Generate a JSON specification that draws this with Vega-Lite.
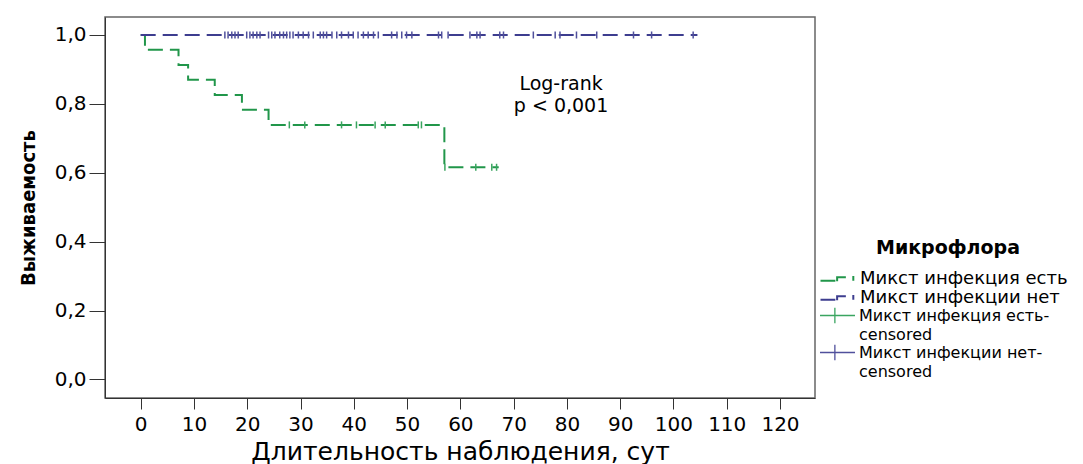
{
  "$schema": "https://vega.github.io/schema/vega-lite/v6.json",
  "width": 710,
  "height": 381,
  "autosize": "none",
  "padding": {"left": 105, "top": 17, "right": 268, "bottom": 66},
  "background": "white",
  "config": {
    "view": {"stroke": "#666666", "strokeWidth": 1.5},
    "font": "DejaVu Sans"
  },
  "resolve": {"scale": {"color": "independent"}},
  "datasets": {
    "steps": [
      {"series": "Микст инфекция есть", "day": 0, "surv": 1},
      {"series": "Микст инфекция есть", "day": 0.8, "surv": 0.957},
      {"series": "Микст инфекция есть", "day": 7.1, "surv": 0.913},
      {"series": "Микст инфекция есть", "day": 8.9, "surv": 0.870},
      {"series": "Микст инфекция есть", "day": 13.9, "surv": 0.826},
      {"series": "Микст инфекция есть", "day": 19, "surv": 0.783},
      {"series": "Микст инфекция есть", "day": 24, "surv": 0.739},
      {"series": "Микст инфекция есть", "day": 57, "surv": 0.616},
      {"series": "Микст инфекция есть", "day": 67.2, "surv": 0.616},
      {"series": "Микст инфекции нет", "day": 0, "surv": 1},
      {"series": "Микст инфекции нет", "day": 104.5, "surv": 1}
    ],
    "censored": [
      {"series": "Микст инфекция есть-censored", "day": 27.9, "surv": 0.739},
      {"series": "Микст инфекция есть-censored", "day": 30.8, "surv": 0.739},
      {"series": "Микст инфекция есть-censored", "day": 37.7, "surv": 0.739},
      {"series": "Микст инфекция есть-censored", "day": 40.5, "surv": 0.739},
      {"series": "Микст инфекция есть-censored", "day": 44.0, "surv": 0.739},
      {"series": "Микст инфекция есть-censored", "day": 45.9, "surv": 0.739},
      {"series": "Микст инфекция есть-censored", "day": 52.1, "surv": 0.739},
      {"series": "Микст инфекция есть-censored", "day": 52.7, "surv": 0.739},
      {"series": "Микст инфекция есть-censored", "day": 57.1, "surv": 0.616},
      {"series": "Микст инфекция есть-censored", "day": 62.9, "surv": 0.616},
      {"series": "Микст инфекция есть-censored", "day": 65.9, "surv": 0.616},
      {"series": "Микст инфекция есть-censored", "day": 66.8, "surv": 0.616},
      {"series": "Микст инфекции нет-censored", "day": 15.8, "surv": 1},
      {"series": "Микст инфекции нет-censored", "day": 16.4, "surv": 1},
      {"series": "Микст инфекции нет-censored", "day": 17.1, "surv": 1},
      {"series": "Микст инфекции нет-censored", "day": 17.7, "surv": 1},
      {"series": "Микст инфекции нет-censored", "day": 18.3, "surv": 1},
      {"series": "Микст инфекции нет-censored", "day": 19.9, "surv": 1},
      {"series": "Микст инфекции нет-censored", "day": 20.5, "surv": 1},
      {"series": "Микст инфекции нет-censored", "day": 21.1, "surv": 1},
      {"series": "Микст инфекции нет-censored", "day": 21.8, "surv": 1},
      {"series": "Микст инфекции нет-censored", "day": 22.4, "surv": 1},
      {"series": "Микст инфекции нет-censored", "day": 24.0, "surv": 1},
      {"series": "Микст инфекции нет-censored", "day": 24.6, "surv": 1},
      {"series": "Микст инфекции нет-censored", "day": 25.2, "surv": 1},
      {"series": "Микст инфекции нет-censored", "day": 26.1, "surv": 1},
      {"series": "Микст инфекции нет-censored", "day": 26.8, "surv": 1},
      {"series": "Микст инфекции нет-censored", "day": 27.4, "surv": 1},
      {"series": "Микст инфекции нет-censored", "day": 28.0, "surv": 1},
      {"series": "Микст инфекции нет-censored", "day": 28.6, "surv": 1},
      {"series": "Микст инфекции нет-censored", "day": 29.6, "surv": 1},
      {"series": "Микст инфекции нет-censored", "day": 30.5, "surv": 1},
      {"series": "Микст инфекции нет-censored", "day": 31.5, "surv": 1},
      {"series": "Микст инфекции нет-censored", "day": 32.4, "surv": 1},
      {"series": "Микст инфекции нет-censored", "day": 33.7, "surv": 1},
      {"series": "Микст инфекции нет-censored", "day": 34.3, "surv": 1},
      {"series": "Микст инфекции нет-censored", "day": 34.9, "surv": 1},
      {"series": "Микст инфекции нет-censored", "day": 35.9, "surv": 1},
      {"series": "Микст инфекции нет-censored", "day": 36.8, "surv": 1},
      {"series": "Микст инфекции нет-censored", "day": 37.7, "surv": 1},
      {"series": "Микст инфекции нет-censored", "day": 39.0, "surv": 1},
      {"series": "Микст инфекции нет-censored", "day": 39.9, "surv": 1},
      {"series": "Микст инфекции нет-censored", "day": 40.8, "surv": 1},
      {"series": "Микст инфекции нет-censored", "day": 41.8, "surv": 1},
      {"series": "Микст инфекции нет-censored", "day": 42.7, "surv": 1},
      {"series": "Микст инфекции нет-censored", "day": 43.7, "surv": 1},
      {"series": "Микст инфекции нет-censored", "day": 44.6, "surv": 1},
      {"series": "Микст инфекции нет-censored", "day": 47.1, "surv": 1},
      {"series": "Микст инфекции нет-censored", "day": 48.1, "surv": 1},
      {"series": "Микст инфекции нет-censored", "day": 49.0, "surv": 1},
      {"series": "Микст инфекции нет-censored", "day": 49.9, "surv": 1},
      {"series": "Микст инфекции нет-censored", "day": 50.9, "surv": 1},
      {"series": "Микст инфекции нет-censored", "day": 55.9, "surv": 1},
      {"series": "Микст инфекции нет-censored", "day": 56.5, "surv": 1},
      {"series": "Микст инфекции нет-censored", "day": 57.7, "surv": 1},
      {"series": "Микст инфекции нет-censored", "day": 61.8, "surv": 1},
      {"series": "Микст инфекции нет-censored", "day": 63.1, "surv": 1},
      {"series": "Микст инфекции нет-censored", "day": 63.7, "surv": 1},
      {"series": "Микст инфекции нет-censored", "day": 67.4, "surv": 1},
      {"series": "Микст инфекции нет-censored", "day": 68.1, "surv": 1},
      {"series": "Микст инфекции нет-censored", "day": 73.7, "surv": 1},
      {"series": "Микст инфекции нет-censored", "day": 77.8, "surv": 1},
      {"series": "Микст инфекции нет-censored", "day": 78.7, "surv": 1},
      {"series": "Микст инфекции нет-censored", "day": 81.8, "surv": 1},
      {"series": "Микст инфекции нет-censored", "day": 85.6, "surv": 1},
      {"series": "Микст инфекции нет-censored", "day": 92.5, "surv": 1},
      {"series": "Микст инфекции нет-censored", "day": 95.9, "surv": 1},
      {"series": "Микст инфекции нет-censored", "day": 103.7, "surv": 1}
    ],
    "note": [{"text": "Log-rank\np < 0,001"}]
  },
  "layer": [
    {
      "data": {"name": "steps"},
      "mark": {"type": "line", "interpolate": "step-after", "strokeWidth": 2, "strokeDash": [15, 7]},
      "encoding": {
        "x": {
          "field": "day", "type": "quantitative",
          "scale": {"domain": [-6.7, 126.57], "nice": false, "zero": false},
          "axis": {
            "values": [0, 10, 20, 30, 40, 50, 60, 70, 80, 90, 100, 110, 120],
            "grid": false, "tickSize": 11, "tickColor": "#333333", "domainColor": "#333333",
            "labelFont": "DejaVu Sans", "labelFontSize": 20, "labelColor": "#000000", "labelPadding": 5,
            "labelFlush": false,
            "title": "Длительность наблюдения, сут", "titleFont": "DejaVu Sans", "titleFontSize": 25,
            "titleFontWeight": "normal", "titleColor": "#000000", "titlePadding": 5
          }
        },
        "y": {
          "field": "surv", "type": "quantitative",
          "scale": {"domain": [-0.0537, 1.0522], "nice": false, "zero": false},
          "axis": {
            "values": [0, 0.2, 0.4, 0.6, 0.8, 1.0],
            "labelExpr": "replace(format(datum.value, '.1f'), '.', ',')",
            "grid": false, "tickSize": 16, "tickColor": "#333333", "domainColor": "#333333",
            "labelFont": "DejaVu Sans", "labelFontSize": 20, "labelColor": "#000000", "labelPadding": 3,
            "title": "Выживаемость", "titleFont": "Liberation Sans Narrow, DejaVu Sans Condensed, sans-serif",
            "titleFontSize": 20, "titleFontWeight": "bold", "titleColor": "#000000", "titlePadding": 16
          }
        },
        "color": {
          "field": "series", "type": "nominal",
          "scale": {
            "domain": ["Микст инфекция есть", "Микст инфекции нет"],
            "range": ["#21964a", "#3d3d8f"]
          },
          "legend": {
            "title": "Микрофлора",
            "orient": "none", "legendX": 723, "legendY": 222,
            "padding": 0,
            "titleFont": "DejaVu Sans", "titleFontSize": 19, "titleFontWeight": "bold", "titleColor": "#000000",
            "titleAnchor": "middle", "titlePadding": 11,
            "labelFont": "DejaVu Sans", "labelFontSize": 18, "labelColor": "#000000", "labelOffset": 12,
            "labelLimit": 400,
            "symbolType": "M-2,0.2H-0.3M-0.1,0.25V-0.2H0.9M1.75,-0.35V0.2",
            "symbolDash": [100, 0],
            "symbolSize": 306, "symbolStrokeWidth": 2, "rowPadding": -2
          }
        }
      }
    },
    {
      "data": {"name": "censored"},
      "mark": {"type": "rule", "strokeWidth": 1.5, "yOffset": -3.5, "y2Offset": 3.5},
      "encoding": {
        "x": {"field": "day", "type": "quantitative"},
        "y": {"field": "surv", "type": "quantitative"},
        "y2": {"field": "surv"},
        "color": {
          "field": "series", "type": "nominal",
          "scale": {
            "domain": ["Микст инфекция есть-censored", "Микст инфекции нет-censored"],
            "range": ["#3aa560", "#50509c"]
          },
          "legend": {
            "title": null,
            "orient": "none", "legendX": 723, "legendY": 289,
            "padding": 0,
            "labelFont": "DejaVu Sans", "labelFontSize": 16, "labelColor": "#000000", "labelOffset": 12,
            "labelLimit": 400,
            "labelExpr": "[replace(datum.label, 'censored', ''), 'censored']",
            "symbolType": "M-2,0H2M-0.3,-0.9V0.9",
            "symbolSize": 306, "symbolStrokeWidth": 1.3, "rowPadding": -3,
            "encode": {"labels": {"update": {"lineHeight": {"value": 19}}}}
          }
        }
      }
    },
    {
      "data": {"name": "note"},
      "mark": {"type": "text", "align": "center", "baseline": "middle", "lineBreak": "\n", "lineHeight": 22, "font": "DejaVu Sans", "fontSize": 19, "color": "#000000"},
      "encoding": {
        "x": {"datum": 78.9, "type": "quantitative"},
        "y": {"datum": 0.859, "type": "quantitative"},
        "text": {"field": "text"}
      }
    }
  ]
}
